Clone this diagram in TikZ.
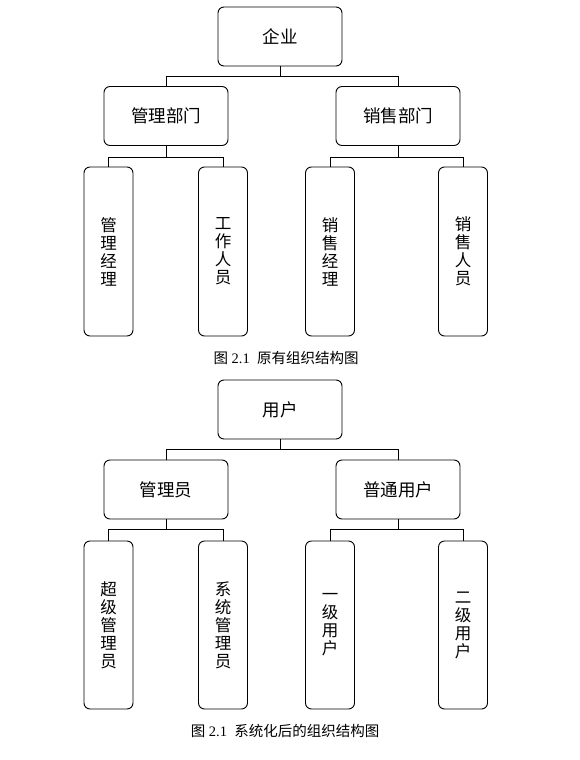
\documentclass[tikz,border=0pt]{standalone}
\usepackage{fontspec}
\setmainfont{Liberation Serif}
\newfontfamily\cjk{Noto Sans CJK SC}
\usepackage{tikz}

\begin{document}
\begin{tikzpicture}[x=1pt, y=-1pt,
    unit/.style={draw, rounded corners=6pt, line width=0.9pt, minimum width=124pt, minimum height=59pt, inner sep=0pt, font=\cjk\fontsize{17.5}{19}\selectfont},
    leaf/.style={draw, rounded corners=6pt, line width=0.9pt, minimum width=49pt, minimum height=169pt, inner sep=0pt, align=center, font=\cjk\fontsize{16.5}{18}\selectfont},
    figcap/.style={font=\fontsize{14.5}{15}\selectfont},
    link/.style={line width=0.9pt}]
    \useasboundingbox (0,0) rectangle (580,760);
    % nodes
    \node[unit] (qiye) at (280,36.5) {企业};
    \node[unit] (glbm) at (166,116) {管理部门};
    \node[unit] (xsbm) at (398,116) {销售部门};

    \node[leaf] (gljl) at (108.5,251.5) {管\\理\\经\\理};
    \node[leaf] (gzry) at (223,251.5) {工\\作\\人\\员};
    \node[leaf] (xsjl) at (330,251.5) {销\\售\\经\\理};
    \node[leaf] (xsry) at (463,251.5) {销\\售\\人\\员};

    \node[figcap] (cap1) at (286,358) {{\cjk 图} 2.1\ \ {\cjk 原有组织结构图}};

    \node[unit] (yonghu) at (280,409.5) {用户};
    \node[unit] (gly) at (166,489.5) {管理员};
    \node[unit] (pt) at (398,489.5) {普通用户};

    \node[leaf, minimum height=168pt] (cjgly) at (108.5,625) {超\\级\\管\\理\\员};
    \node[leaf, minimum height=168pt] (xtgly) at (223,625) {系\\统\\管\\理\\员};
    \node[leaf, minimum height=168pt] (yjyh) at (330,625) {一\\级\\用\\户};
    \node[leaf, minimum height=168pt] (ejyh) at (463,625) {二\\级\\用\\户};

    \node[figcap] (cap2) at (285,731) {{\cjk 图} 2.1\ \ {\cjk 系统化后的组织结构图}};
    % edges
    \draw[link] (qiye.south) -- ++(0,10) -| (glbm.north);
    \draw[link] (qiye.south) -- ++(0,10) -| (xsbm.north);
    \draw[link] (glbm.south) -- ++(0,11) -| (gljl.north);
    \draw[link] (glbm.south) -- ++(0,11) -| (gzry.north);
    \draw[link] (xsbm.south) -- ++(0,11) -| (xsjl.north);
    \draw[link] (xsbm.south) -- ++(0,11) -| (xsry.north);

    \draw[link] (yonghu.south) -- ++(0,10) -| (gly.north);
    \draw[link] (yonghu.south) -- ++(0,10) -| (pt.north);
    \draw[link] (gly.south) -- ++(0,10) -| (cjgly.north);
    \draw[link] (gly.south) -- ++(0,10) -| (xtgly.north);
    \draw[link] (pt.south) -- ++(0,10) -| (yjyh.north);
    \draw[link] (pt.south) -- ++(0,10) -| (ejyh.north);
\end{tikzpicture}
\end{document}
